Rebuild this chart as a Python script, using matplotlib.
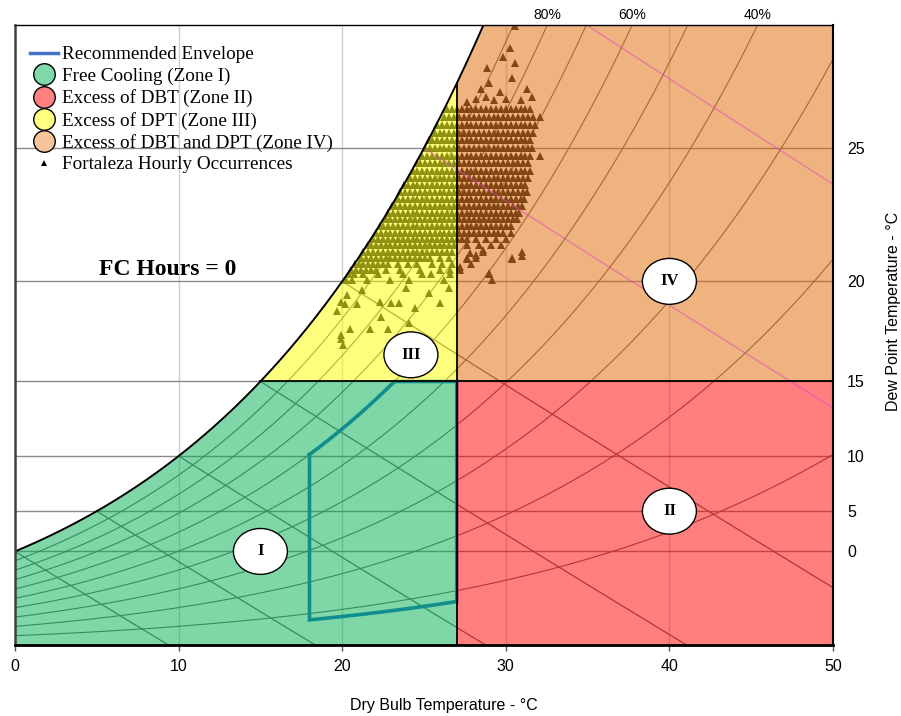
import numpy as np
import matplotlib
matplotlib.use('Agg')
import matplotlib.pyplot as plt
from matplotlib.lines import Line2D
from matplotlib.patches import Ellipse

# ---------------- data ----------------
rh_levels = [10, 20, 30, 40, 50, 60, 70, 80, 90]          # % RH curves
rh_top_labels = [80, 60, 40]                               # labelled RH curves
wb_gray = [0, 5, 10, 15, 20]                               # wet-bulb lines (gray)
wb_pink = [25, 30]                                         # wet-bulb lines (pink)
dbt_ticks = [0, 10, 20, 30, 40, 50]
dp_ticks = [0, 5, 10, 15, 20, 25]
zone_dbt_limit = 27
zone_dp_limit = 15
env_dbt = [18, 27]          # recommended envelope DBT limits
env_rh = [8, 60]            # recommended envelope RH limits (%)
env_dp_max = 15             # recommended envelope DP upper limit
fc_hours = 0

# Fortaleza hourly occurrences, read as rows of dew point with their dry bulbs
occ_dpt_rows = [26.25, 26.0, 25.75, 25.5, 25.25, 25.0, 24.75, 24.5, 24.25, 24.0,
                23.75, 23.5, 23.25, 23.0, 22.75, 22.5, 22.25, 22.0, 21.75, 21.5,
                21.25, 21.0, 20.75, 20.5, 20.3, 20.05]
occ_dbt_rows = [
    [26.4, 26.7, 27.0, 27.3, 27.6, 27.9, 28.2, 28.5, 28.8, 29.1, 29.4, 29.7, 30.0, 30.3, 30.6, 30.9, 31.2, 31.5],
    [26.25, 26.55, 26.85, 27.15, 27.45, 27.75, 28.05, 28.35, 28.65, 28.95, 29.25, 29.55, 29.85, 30.15, 30.45, 30.75, 31.05, 31.35, 31.65, 32.1],
    [25.8, 26.1, 26.4, 26.7, 27.0, 27.3, 27.6, 27.9, 28.2, 28.5, 28.8, 29.1, 29.4, 29.7, 30.0, 30.3, 30.6, 30.9, 31.2, 31.5, 31.8],
    [25.65, 25.95, 26.25, 26.55, 26.85, 27.15, 27.45, 27.75, 28.05, 28.35, 28.65, 28.95, 29.25, 29.55, 29.85, 30.15, 30.45, 30.75, 31.05, 31.35, 31.65],
    [25.3, 25.5, 25.8, 26.1, 26.4, 26.7, 27.0, 27.3, 27.6, 27.9, 28.2, 28.5, 28.8, 29.1, 29.4, 29.7, 30.0, 30.3, 30.6, 30.9, 31.2, 31.5],
    [25.05, 25.35, 25.65, 25.95, 26.25, 26.55, 26.85, 27.15, 27.45, 27.75, 28.05, 28.35, 28.65, 28.95, 29.25, 29.55, 29.85, 30.15, 30.45, 30.75, 31.05, 31.35, 31.6],
    [24.9, 25.2, 25.5, 25.8, 26.1, 26.4, 26.7, 27.0, 27.3, 27.6, 27.9, 28.2, 28.5, 28.8, 29.1, 29.4, 29.7, 30.0, 30.3, 30.6, 30.9, 31.2, 31.5, 32.1],
    [24.55, 24.75, 25.05, 25.35, 25.65, 25.95, 26.25, 26.55, 26.85, 27.15, 27.45, 27.75, 28.05, 28.35, 28.65, 28.95, 29.25, 29.55, 29.85, 30.15, 30.45, 30.75, 31.05, 31.35],
    [24.3, 24.6, 24.9, 25.2, 25.5, 25.8, 26.1, 26.4, 26.7, 27.0, 27.3, 27.6, 27.9, 28.2, 28.5, 28.8, 29.1, 29.4, 29.7, 30.0, 30.3, 30.6, 30.9, 31.2, 31.45],
    [24.15, 24.45, 24.75, 25.05, 25.35, 25.65, 25.95, 26.25, 26.55, 26.85, 27.15, 27.45, 27.75, 28.05, 28.35, 28.65, 28.95, 29.25, 29.55, 29.85, 30.15, 30.45, 30.75, 31.05, 31.35],
    [23.8, 24.0, 24.3, 24.6, 24.9, 25.2, 25.5, 25.8, 26.1, 26.4, 26.7, 27.0, 27.3, 27.6, 27.9, 28.2, 28.5, 28.8, 29.1, 29.4, 29.7, 30.0, 30.3, 30.6, 30.9, 31.2],
    [23.55, 23.85, 24.15, 24.45, 24.75, 25.05, 25.35, 25.65, 25.95, 26.25, 26.55, 26.85, 27.15, 27.45, 27.75, 28.05, 28.35, 28.65, 28.95, 29.25, 29.55, 29.85, 30.15, 30.45, 30.75, 31.05, 31.3],
    [23.4, 23.7, 24.0, 24.3, 24.6, 24.9, 25.2, 25.5, 25.8, 26.1, 26.4, 26.7, 27.0, 27.3, 27.6, 27.9, 28.2, 28.5, 28.8, 29.1, 29.4, 29.7, 30.0, 30.3, 30.6, 30.9, 31.1],
    [23.05, 23.25, 23.55, 23.85, 24.15, 24.45, 24.75, 25.05, 25.35, 25.65, 25.95, 26.25, 26.55, 26.85, 27.15, 27.45, 27.75, 28.05, 28.35, 28.65, 28.95, 29.25, 29.55, 29.85, 30.15, 30.45, 30.75, 31.0],
    [22.8, 23.1, 23.4, 23.7, 24.0, 24.3, 24.6, 24.9, 25.2, 25.5, 25.8, 26.1, 26.4, 26.7, 27.0, 27.3, 27.6, 27.9, 28.2, 28.5, 28.8, 29.1, 29.4, 29.7, 30.0, 30.3, 30.6, 30.8],
    [22.65, 22.95, 23.25, 23.55, 23.85, 24.15, 24.45, 24.75, 25.05, 25.35, 25.65, 25.95, 26.25, 26.55, 26.85, 27.15, 27.45, 27.75, 28.05, 28.35, 28.65, 28.95, 29.25, 29.55, 29.85, 30.15, 30.45, 30.7],
    [22.3, 22.5, 22.8, 23.1, 23.4, 23.7, 24.0, 24.3, 24.6, 24.9, 25.2, 25.5, 25.8, 26.1, 26.4, 26.7, 27.0, 27.3, 27.6, 27.9, 28.2, 28.5, 28.8, 29.1, 29.4, 29.7, 30.0, 30.3],
    [22.05, 22.35, 22.65, 22.95, 23.25, 23.55, 23.85, 24.15, 24.45, 24.75, 25.05, 25.35, 25.65, 25.95, 26.25, 26.55, 26.85, 27.15, 27.45, 27.75, 28.05, 28.35, 28.65, 28.95, 29.25, 29.55, 29.85, 30.3],
    [21.9, 22.2, 22.5, 22.8, 23.1, 23.4, 23.7, 24.0, 24.3, 24.6, 24.9, 25.2, 25.5, 25.8, 26.1, 26.4, 26.7, 27.0, 27.3, 27.6, 28.2, 28.8, 29.4, 30.0],
    [21.6, 21.75, 22.05, 22.35, 22.65, 22.95, 23.25, 23.55, 23.85, 24.15, 24.45, 24.75, 25.05, 25.35, 25.65, 25.95, 26.25, 26.55, 26.85, 27.6, 28.35, 29.1, 29.7],
    [21.3, 21.6, 21.9, 22.2, 22.5, 22.8, 23.1, 23.4, 23.7, 24.0, 24.3, 24.6, 24.9, 25.2, 25.5, 25.8, 26.1, 26.4, 26.7, 28.6, 31.0],
    [21.15, 21.45, 21.75, 22.05, 22.35, 22.65, 22.95, 23.25, 23.55, 23.85, 24.15, 24.45, 24.75, 25.05, 25.35, 25.95, 26.55, 27.6, 28.2, 30.4],
    [20.8, 21.0, 21.3, 21.6, 21.9, 22.2, 22.5, 22.8, 23.4, 24.0, 24.6, 25.5, 26.1, 26.7, 27.9],
    [20.55, 20.85, 21.15, 21.45, 21.75, 22.05, 22.65, 23.55, 24.75, 25.95, 26.6, 27.2],
    [20.4, 20.7, 21.3, 22.2, 23.7, 24.9, 25.4, 26.6, 29.0],
    [20.25, 20.6, 21.5, 22.9, 24.1, 26.2, 29.15],
]
# scattered occurrences (dry bulb, dew point)
occ_extra_dbt = [19.9, 20.3, 20.9, 22.3, 23.0, 23.5, 22.4, 20.5, 19.9, 21.7, 22.8, 24.1,
                 24.45, 26.0, 26.5, 19.7, 20.2, 19.9, 20.05, 21.2, 25.3, 23.9,
                 30.56, 30.26, 29.8, 30.56, 28.85, 29.0, 28.5, 29.65, 31.3, 31.6,
                 28.2, 30.4, 30.0, 30.9, 29.3, 28.8, 27.6,
                 27.8, 28.6, 30.4, 31.0, 29.0, 28.2, 27.6, 27.2]
occ_extra_dpt = [19.1, 19.4, 19.0, 19.1, 19.05, 19.05, 18.4, 17.8, 17.3, 17.8, 17.8, 18.1,
                 18.8, 19.05, 19.7, 18.65, 19.0, 17.5, 17.0, 19.6, 19.5, 19.7,
                 28.6, 28.0, 27.75, 27.6, 27.45, 27.0, 26.85, 26.75, 26.85, 26.6,
                 26.55, 27.15, 26.55, 26.5, 26.5, 26.6, 26.45,
                 21.2, 21.3, 20.95, 21.05, 20.35, 21.1, 20.95, 20.6]

legend_labels = ["Recommended Envelope", "Free Cooling (Zone I)", "Excess of DBT (Zone II)",
                 "Excess of DPT (Zone III)", "Excess of DBT and DPT (Zone IV)",
                 "Fortaleza Hourly Occurrences"]
zone_names = ["I", "II", "III", "IV"]

# ---------------- psychrometrics ----------------
P_ATM = 101.325


def pws(t):
    t = np.asarray(t, dtype=float)
    return 0.61094 * np.exp(17.625 * t / (t + 243.04))


def w_from_pw(pw):
    return 0.622 * pw / (P_ATM - pw)


def w_rh(t, rh):
    return w_from_pw(rh * pws(t))


def w_dp(dp):
    return w_from_pw(pws(dp))


def w_wb(t, twb):
    ws = w_dp(twb)
    return ((2501 - 2.326 * twb) * ws - 1.006 * (t - twb)) / (2501 + 1.86 * t - 4.186 * twb)


W_TOP = 0.025
W15 = w_dp(zone_dp_limit)

SANS = 'Liberation Sans'
SERIF = 'Liberation Serif'

fig = plt.figure(figsize=(9.01, 7.16), dpi=100)
ax = fig.add_axes([15 / 901, 71 / 716, 818 / 901, 620 / 716])
ax.set_xlim(0, 50)
ax.set_ylim(0, W_TOP)

# grid
ax.set_axisbelow(True)
ax.set_xticks(dbt_ticks)
ax.set_xticklabels([str(v) for v in dbt_ticks], family=SANS, fontsize=11.5)
ax.yaxis.tick_right()
ax.set_yticks([float(w_dp(d)) for d in dp_ticks])
ax.set_yticklabels([str(v) for v in dp_ticks], family=SANS, fontsize=11.5)
ax.xaxis.grid(True, color='#cfcfcf', lw=1.0)
ax.yaxis.grid(True, color='#8a8a8a', lw=1.0)
ax.tick_params(axis='x', length=4, width=1, pad=6, direction='out', color='#555555')
ax.tick_params(axis='y', length=0, pad=10)

tt = np.linspace(0, 50, 600)
# RH curves
for rh in rh_levels:
    ax.plot(tt, w_rh(tt, rh / 100), color='#6a6a6a', lw=0.8, zorder=1)
# wet-bulb lines
for twb in wb_gray + wb_pink:
    t = np.linspace(twb, 50, 400)
    w = w_wb(t, twb)
    m = w >= 0
    if twb in wb_gray:
        ax.plot(t[m], w[m], color='#6a6a6a', lw=0.9, zorder=1)
    else:
        ax.plot(t[m], w[m], color='#E040C8', lw=1.0, alpha=0.5, zorder=3.5)

# recommended envelope
te = np.linspace(env_dbt[0], env_dbt[1], 800)
upper = np.minimum(w_rh(te, env_rh[1] / 100), w_dp(env_dp_max))
lower = w_rh(te, env_rh[0] / 100)
ex = np.concatenate([te, te[::-1], te[:1]])
ey = np.concatenate([upper, lower[::-1], upper[:1]])
ax.plot(ex, ey, color='#1F6CC8', lw=2.6, zorder=1.5, solid_joinstyle='miter')

# occurrences
occ_dbt = []
occ_dpt = []
for d, row in zip(occ_dpt_rows, occ_dbt_rows):
    occ_dbt += row
    occ_dpt += [d] * len(row)
occ_dbt += occ_extra_dbt
occ_dpt += occ_extra_dpt
ax.plot(occ_dbt, w_dp(np.array(occ_dpt)), ls='none', marker='^', ms=6.0, mew=0,
        color='#262626', zorder=2)

# zones (semi-transparent over lines and points)
ALPHA = 0.5
c_green, c_red, c_yellow, c_orange = '#00B050', '#FF0000', '#FFFF00', '#E16901'
t1 = np.linspace(0, zone_dbt_limit, 600)
ax.fill_between(t1, 0, np.minimum(w_rh(t1, 1.0), W15), color=c_green, alpha=ALPHA, lw=0, zorder=3)
ax.fill_between([zone_dbt_limit, 50], 0, W15, color=c_red, alpha=ALPHA, lw=0, zorder=3)
t3 = np.linspace(zone_dp_limit, zone_dbt_limit, 400)
ax.fill_between(t3, W15, w_rh(t3, 1.0), color=c_yellow, alpha=ALPHA, lw=0, zorder=3)
t4 = np.linspace(zone_dbt_limit, 50, 400)
ax.fill_between(t4, W15, np.minimum(w_rh(t4, 1.0), W_TOP + 0.001), color=c_orange,
                alpha=ALPHA, lw=0, zorder=3)

# boundaries
ts = np.linspace(0, 32, 600)
ax.plot(ts, w_rh(ts, 1.0), color='black', lw=1.4, zorder=4)
ax.plot([zone_dp_limit, 50], [W15, W15], color='black', lw=1.3, zorder=4)
ax.plot([zone_dbt_limit, zone_dbt_limit], [0, w_rh(zone_dbt_limit, 1.0)], color='black', lw=1.3, zorder=4)

# zone labels
zone_pos = [(15, w_dp(0)), (40, w_dp(5)), (24.2, 0.0117), (40, w_dp(20))]
for name, (x, y) in zip(zone_names, zone_pos):
    ax.add_patch(Ellipse((x, y), width=3.3, height=0.00185, facecolor='white',
                         edgecolor='black', lw=1.0, zorder=5))
    ax.text(x, y, name, ha='center', va='center', family=SERIF, fontweight='bold',
            fontsize=12, zorder=6)

# RH labels on top
tg = np.linspace(20, 50, 3000)
for rh in rh_top_labels:
    tl = np.interp(W_TOP, w_rh(tg, rh / 100), tg)
    ax.text(tl, W_TOP + 0.0004, f"{rh}%", ha='center', va='center', family=SANS,
            fontsize=10, clip_on=False)

ax.text(0.187, 0.606, f"FC Hours = {fc_hours}", transform=ax.transAxes, ha='center',
        va='center', family=SERIF, fontweight='bold', fontsize=17)

# spines
for s in ['top', 'bottom', 'right']:
    ax.spines[s].set_color('black')
ax.spines['left'].set_color('#404040')
ax.spines['left'].set_linewidth(1.8)
ax.spines['top'].set_linewidth(1.0)
ax.spines['bottom'].set_linewidth(2.0)
ax.spines['right'].set_linewidth(1.5)
for s in ax.spines.values():
    s.set_zorder(7)

# axis labels
ax.set_xlabel("Dry Bulb Temperature - °C", family=SANS, fontsize=11.5)
ax.xaxis.set_label_coords(0.5245, -0.0855)
ax.yaxis.set_label_position('right')
ax.set_ylabel("Dew Point Temperature - °C", family=SANS, fontsize=11.5, rotation=90)
ax.yaxis.set_label_coords(1.0654, 0.5387)

# legend
handles = [
    Line2D([], [], color='#4472C4', lw=2.5),
    Line2D([], [], ls='none', marker='o', ms=15.5, mfc='#80D8A8', mec='black', mew=1.0),
    Line2D([], [], ls='none', marker='o', ms=15.5, mfc='#FF8080', mec='black', mew=1.0),
    Line2D([], [], ls='none', marker='o', ms=15.5, mfc='#FFFF80', mec='black', mew=1.0),
    Line2D([], [], ls='none', marker='o', ms=15.5, mfc='#F8C49C', mec='black', mew=1.0),
    Line2D([], [], ls='none', marker='^', ms=4, mfc='black', mec='black', mew=0),
]
leg = ax.legend(handles, legend_labels, loc='upper left', bbox_to_anchor=(0.018, 0.966),
                frameon=False, prop={'family': SERIF, 'size': 13.8}, handlelength=1.5,
                handletextpad=0.2, labelspacing=0.22, borderaxespad=0, borderpad=0)
leg.set_zorder(8)

fig.savefig('out.png', dpi=100)
